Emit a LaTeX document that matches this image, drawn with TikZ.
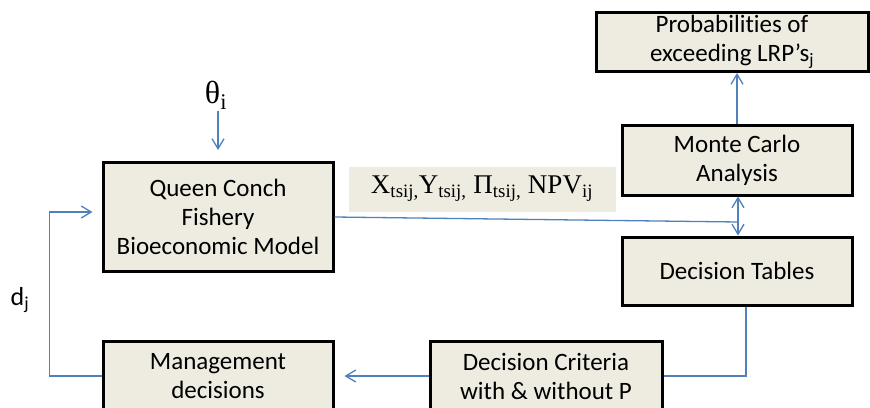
\documentclass[tikz,border=0pt]{standalone}
\usepackage{fontspec}
\setmainfont[Ligatures=NoCommon]{Carlito}
\newfontfamily\tmsfont{Liberation Serif}
\usetikzlibrary{arrows.meta}
\definecolor{boxfill}{RGB}{238,236,225}
\definecolor{flowblue}{RGB}{79,129,189}
\begin{document}
\begin{tikzpicture}[x=1pt,y=-1pt,
  box/.style={draw=black,line width=3pt,fill=boxfill,align=center,inner sep=0pt,font=\fontsize{25}{29}\selectfont},
  link/.style={draw=flowblue,line width=1.3pt},
  flow/.style={link,-{Straight Barb[length=10pt,width=12pt,line width=1.3pt]}}]%flow chart
\useasboundingbox (0,0) rectangle (870,407);
\node[box,minimum width=230pt,minimum height=109pt] (qc) at (218,217) {Queen Conch\\Fishery\\Bioeconomic Model};
\node[box,minimum width=272pt,minimum height=59pt] (prob) at (732,42) {Probabilities of\\exceeding LRP’s\textsubscript{j}};
\node[box,minimum width=230pt,minimum height=70pt] (mc) at (737,160) {Monte Carlo\\Analysis};
\node[box,minimum width=230pt,minimum height=68pt] (dt) at (737,271) {Decision Tables};
\node[box,minimum width=230pt,minimum height=70pt] (md) at (218,376) {Management\\decisions};
\node[box,minimum width=232pt,minimum height=70pt] (dc) at (546,376) {Decision Criteria\\with \& without P};
\node[fill=boxfill,minimum width=267pt,minimum height=45pt,inner sep=0pt,font=\tmsfont\fontsize{27}{30}\selectfont] (out) at (482,189) {X\textsubscript{tsij,}Y\textsubscript{tsij,} Π\textsubscript{tsij,} NPV\textsubscript{ij}};
\node[font=\tmsfont\fontsize{32}{34}\selectfont,inner sep=1pt] (th) at (216,95) {θ\textsubscript{i}};
\node[font=\fontsize{26}{29}\selectfont] (dj) at (20,300) {d\textsubscript{j}};
\coordinate (split) at (738,222);
\coordinate (thtip) at (218,150);
\draw[flow] (th.south -| thtip) -- (thtip);
\draw[link] (qc.east) -- (split);
\draw[flow] (split) -- (split |- mc.south);
\draw[flow] (split) -- (split |- dt.north);
\draw[flow] (mc.north) -- (mc.north |- prob.south);
\draw[link] ([xshift=9pt]dt.south) |- (dc.east);
\draw[flow,shorten >=10pt] (dc.west) -- (md.east);
\draw[flow,shorten >=9pt] (md.west) -- ++(-52,0) |- ([yshift=5pt]qc.west);
\end{tikzpicture}
\end{document}
